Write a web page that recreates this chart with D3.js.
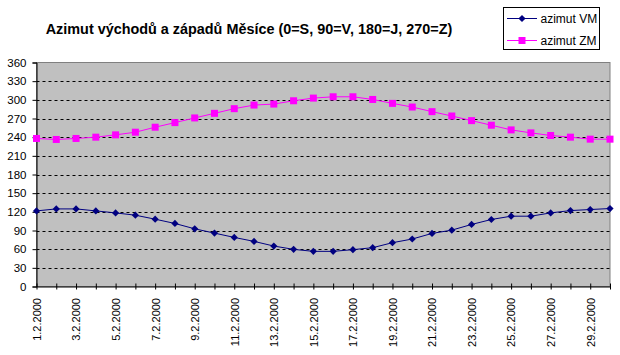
<!DOCTYPE html>
<html><head><meta charset="utf-8">
<script src="https://cdn.jsdelivr.net/npm/d3@7"></script>
<style>
html,body{margin:0;padding:0;background:#fff;}
svg{display:block;font-family:Arial,"Liberation Sans",sans-serif;}
</style></head>
<body>
<svg id="c" width="620" height="355"></svg>
<script>
const dates = ["1.2.2000","2.2.2000","3.2.2000","4.2.2000","5.2.2000","6.2.2000","7.2.2000","8.2.2000","9.2.2000","10.2.2000",
"11.2.2000","12.2.2000","13.2.2000","14.2.2000","15.2.2000","16.2.2000","17.2.2000","18.2.2000","19.2.2000","20.2.2000",
"21.2.2000","22.2.2000","23.2.2000","24.2.2000","25.2.2000","26.2.2000","27.2.2000","28.2.2000","29.2.2000","1.3.2000"];
const azimutVM = [121.5,124.7,124.7,121.5,118.3,114.6,108.2,101.3,92.7,85.8,78.9,72.5,65,59.7,56.5,
56.5,59.2,62.4,70.4,76.3,85.3,90.6,99.7,107.7,113,113,118.3,122,123.7,125.3];
const azimutZM = [237.9,236.3,237.9,240,243.7,248,256,263.4,270.9,278.3,285.8,291.6,293.2,298.5,302.8,
304.9,304.9,300.6,294.3,288.4,281,274,266.6,259.2,251.7,246.9,242.7,240,236.8,236.8];
const yTicks = [0,30,60,90,120,150,180,210,240,270,300,330,360];
const seriesNames = ["azimut VM","azimut ZM"];
const title = "Azimut východů a západů Měsíce (0=S, 90=V, 180=J, 270=Z)";

const svg = d3.select("#c");
const L = 36.5, R = 610, T = 62.5, B = 286.5;
const x = d3.scalePoint().domain(dates).range([L, R]).padding(0);
const y = d3.scaleLinear().domain([0, 360]).range([B, T]);

// plot area
svg.append("rect").attr("x", L).attr("y", T).attr("width", R - L).attr("height", B - T)
  .attr("fill", "#c0c0c0").attr("stroke", "#808080").attr("stroke-width", 1);

// gridlines
svg.append("g").selectAll("line").data(yTicks.filter(v => v > 0 && v < 360)).join("line")
  .attr("x1", L).attr("x2", R).attr("y1", d => Math.round(y(d)) + 0.5).attr("y2", d => Math.round(y(d)) + 0.5)
  .attr("stroke", "#000").attr("stroke-width", 1).attr("stroke-dasharray", "3,3");

// y axis
const ya = svg.append("g").attr("transform", `translate(${L},0)`)
  .call(d3.axisLeft(y).tickValues(yTicks).tickSize(4).tickPadding(6).tickFormat(d3.format("d")));
ya.select(".domain").attr("stroke", "#000");
ya.selectAll("line").attr("stroke", "#000");
ya.selectAll("text").attr("font-size", "11.5px").attr("fill", "#000").attr("font-family", "Arial,'Liberation Sans',sans-serif");

// x axis
const xa = svg.append("g").attr("transform", `translate(0,${B})`)
  .call(d3.axisBottom(x).tickSize(3).tickPadding(0).tickFormat((d, i) => i % 2 === 0 ? d : ""));
xa.select(".domain").attr("stroke", "#000").attr("d", `M${L},0.5H${R}`);
xa.selectAll(".tick line").attr("stroke", "#000").attr("y1", -3).attr("y2", 3);
xa.selectAll(".tick text")
  .attr("font-size", "11px").attr("fill", "#000").attr("font-family", "Arial,'Liberation Sans',sans-serif")
  .attr("transform", "rotate(-90)").attr("text-anchor", "end")
  .attr("x", -11.5).attr("y", 0).attr("dy", "0.35em");

// lines
const line = d3.line().x((d, i) => x(dates[i])).y(d => y(d));
svg.append("path").datum(azimutVM).attr("d", line).attr("fill", "none").attr("stroke", "#000080").attr("stroke-width", 1);
svg.append("path").datum(azimutZM).attr("d", line).attr("fill", "none").attr("stroke", "#ff00ff").attr("stroke-width", 1);

const diamond = s => `M0,${-s}L${s},0L0,${s}L${-s},0Z`;
svg.append("g").selectAll("path").data(azimutVM).join("path")
  .attr("transform", (d, i) => `translate(${x(dates[i])},${y(d)})`)
  .attr("d", diamond(3.6)).attr("fill", "#000080");
svg.append("g").selectAll("rect").data(azimutZM).join("rect")
  .attr("x", (d, i) => x(dates[i]) - 3.5).attr("y", d => y(d) - 3.5)
  .attr("width", 7).attr("height", 7).attr("fill", "#ff00ff");

// title
svg.append("text").attr("x", 249).attr("y", 34).attr("text-anchor", "middle")
  .attr("font-size", "14.4px").attr("font-weight", "bold").attr("fill", "#000").text(title);

// legend
const lg = svg.append("g");
lg.append("rect").attr("x", 503.5).attr("y", 7.5).attr("width", 96).attr("height", 42)
  .attr("fill", "#fff").attr("stroke", "#000");
const lcol = ["#000080", "#ff00ff"];
seriesNames.forEach((n, i) => {
  const yy = 18.5 + i * 22;
  lg.append("line").attr("x1", 507).attr("x2", 537).attr("y1", yy).attr("y2", yy).attr("stroke", lcol[i]).attr("stroke-width", 1);
  if (i === 0) lg.append("path").attr("transform", `translate(522,${yy})`).attr("d", diamond(3.6)).attr("fill", lcol[i]);
  else lg.append("rect").attr("x", 518.5).attr("y", yy - 3.5).attr("width", 7).attr("height", 7).attr("fill", lcol[i]);
  lg.append("text").attr("x", 540.5).attr("y", yy).attr("dy", "0.35em").attr("font-size", "12px").attr("fill", "#000").text(n);
});
</script>
</body></html>
